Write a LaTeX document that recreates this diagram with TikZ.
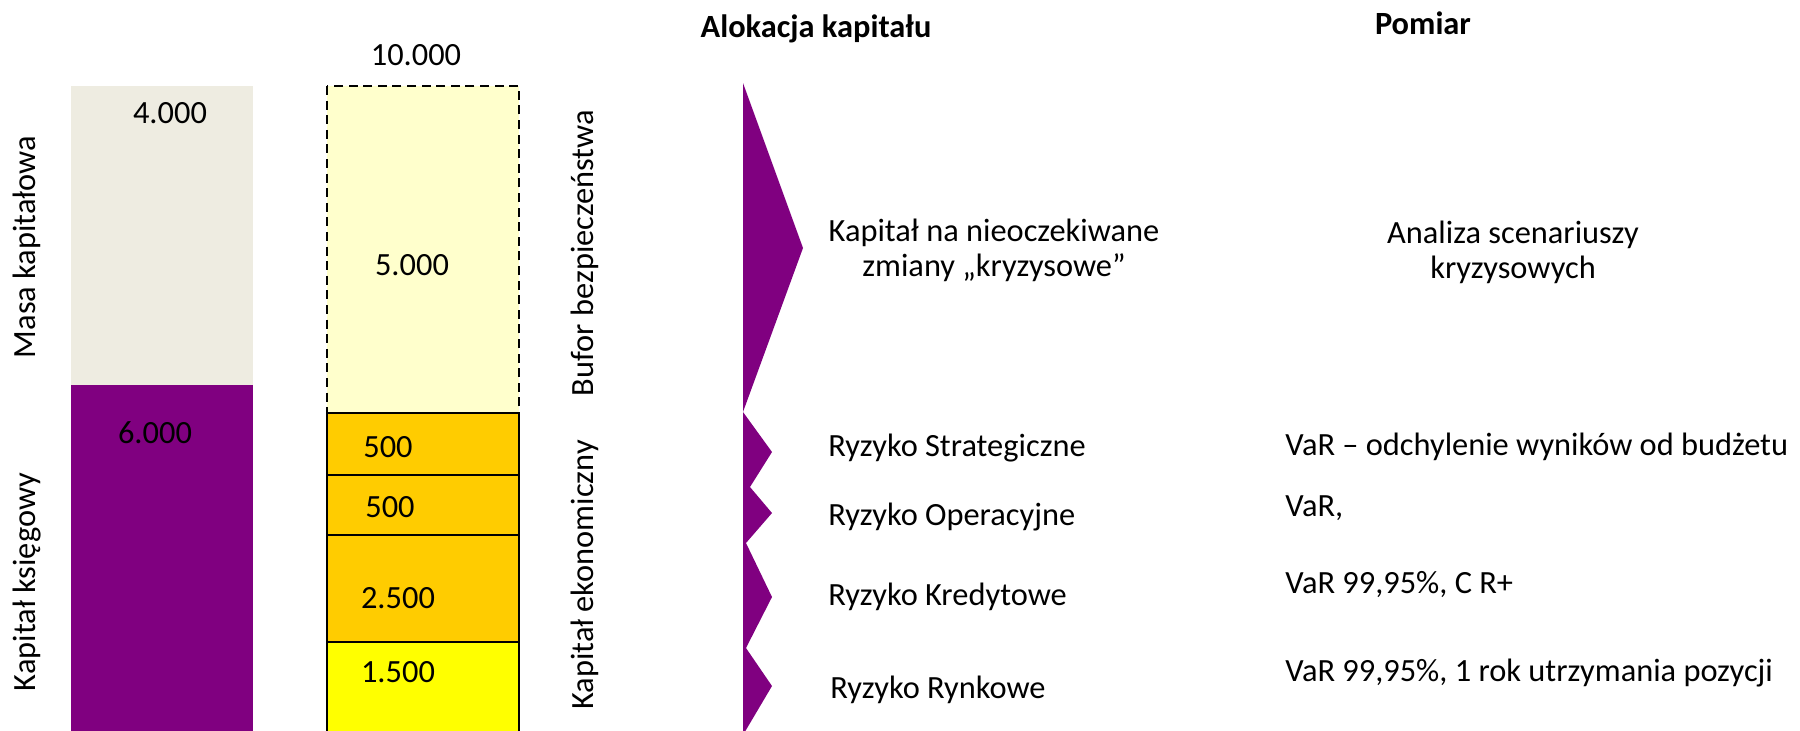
\documentclass[tikz,border=0pt]{standalone}
\usepackage{fontspec}
\setmainfont{Carlito}
\definecolor{greyc}{HTML}{EEECE1}
\definecolor{purp}{HTML}{800080}
\definecolor{lyel}{HTML}{FFFFCC}
\definecolor{oran}{HTML}{FFCC00}
\definecolor{yelc}{HTML}{FFFF00}
\begin{document}
\begin{tikzpicture}[x=0.5pt,y=-0.5pt,
  txt/.style={inner sep=0pt,font=\fontsize{16.2}{17.5}\selectfont},
  ttl/.style={inner sep=0pt,font=\fontsize{16.2}{18}\selectfont\bfseries},
  vtxt/.style={txt,rotate=90},
  lft/.style={txt,anchor=west},
  seg/.style={draw=black,line width=1.3pt},
]
\useasboundingbox (0,0) rectangle (1800,730);
\clip (0,0) rectangle (1800,730);
% left column
\fill[greyc] (71,86) rectangle (253,385);
\fill[purp] (71,385) rectangle (253,735);
% dashed buffer
\draw[fill=lyel,draw=black,line width=1.4pt,dash pattern=on 4.5pt off 2.8pt] (327,86) rectangle (519,413);
\draw[seg,fill=oran] (327,413) rectangle (519,475);
\draw[seg,fill=oran] (327,475) rectangle (519,535);
\draw[seg,fill=oran] (327,535) rectangle (519,642);
\draw[seg,fill=yelc] (327,642) rectangle (519,740);
% chevrons
\fill[purp] (743,83) -- (803,248) -- (743,412) -- (772,452) -- (750,487) -- (772,513)
  -- (746,543) -- (772,597) -- (746,648) -- (772,686) -- (743,735) -- cycle;
% numbers
\node[txt] (n10000) at (416,55) {10.000};
\node[txt] (n4000) at (170,113) {4.000};
\node[txt] (n5000) at (412,265) {5.000};
\node[txt] (n6000) at (155,433) {6.000};
\node[txt] (n500a) at (388,447) {500};
\node[txt] (n500b) at (390,507) {500};
\node[txt] (n2500) at (398,598) {2.500};
\node[txt] (n1500) at (398,672) {1.500};
% vertical labels
\node[vtxt] (masa) at (27,247) {Masa kapitałowa};
\node[vtxt] (ksieg) at (27,582) {Kapitał księgowy};
\node[vtxt] (bufor) at (585,253) {Bufor bezpieczeństwa};
\node[vtxt] (ekon) at (585,575) {Kapitał ekonomiczny};
% titles
\node[ttl] (alok) at (816,29) {Alokacja kapitału};
\node[ttl] (pomiar) at (1423,23) {Pomiar};
% middle texts
\node[txt,align=center] (kryz) at (994,250) {Kapitał na nieoczekiwane\\zmiany „kryzysowe”};
\node[lft] (rs) at (828,448) {Ryzyko Strategiczne};
\node[lft] (ro) at (828,517) {Ryzyko Operacyjne};
\node[lft] (rk) at (828,597) {Ryzyko Kredytowe};
\node[lft] (rr) at (830,690) {Ryzyko Rynkowe};
% right texts
\node[txt,align=center] (anal) at (1513,252) {Analiza scenariuszy\\kryzysowych};
\node[lft] (v1) at (1285,447) {VaR – odchylenie wyników od budżetu};
\node[lft] (v2) at (1285,508) {VaR,};
\node[lft] (v3) at (1285,585) {VaR 99,95\%, C R+};
\node[lft] (v4) at (1285,673) {VaR 99,95\%, 1 rok utrzymania pozycji};
\end{tikzpicture}
\end{document}
